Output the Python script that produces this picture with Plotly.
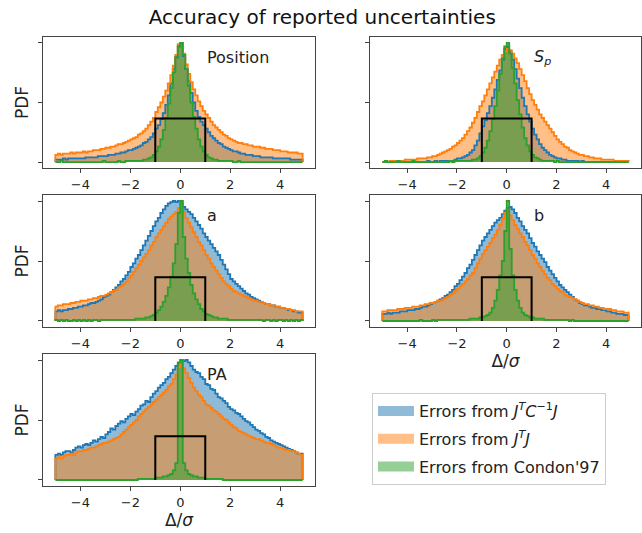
import numpy as np
import plotly.graph_objects as go

# Histogram bin edges (Delta / sigma), 99 bins of width 0.1
edges = np.round(np.arange(-50, 50) / 10.0, 1)

# Normalised PDFs (percent of the panel peak), one list per error estimate
pos_jtcj = [2, 2, 2, 3, 2, 3, 3, 3, 3, 3,
            3, 3, 4, 4, 4, 4, 4, 5, 5, 5,
            5, 6, 6, 6, 7, 7, 8, 8, 9, 10,
            10, 11, 12, 13, 14, 16, 17, 19, 21, 24,
            28, 31, 36, 41, 48, 56, 66, 78, 88, 98,
            100, 89, 78, 68, 58, 50, 43, 38, 34, 31,
            28, 25, 22, 20, 18, 16, 15, 13, 12, 11,
            10, 9, 9, 8, 7, 7, 6, 6, 6, 5,
            5, 5, 4, 4, 4, 4, 4, 3, 3, 3,
            3, 3, 3, 3, 2, 2, 2, 2, 2]
pos_jtj = [6, 7, 6, 7, 7, 7, 8, 7, 8, 8,
           8, 9, 8, 9, 9, 10, 10, 10, 11, 11,
           12, 12, 13, 13, 14, 15, 15, 16, 17, 18,
           19, 20, 21, 23, 24, 26, 28, 31, 34, 37,
           42, 46, 50, 55, 60, 66, 73, 81, 90, 99,
           100, 91, 82, 74, 67, 61, 56, 51, 47, 43,
           40, 37, 34, 31, 29, 27, 25, 23, 22, 20,
           19, 18, 17, 16, 16, 15, 15, 14, 14, 13,
           13, 13, 12, 12, 11, 11, 11, 10, 10, 10,
           9, 9, 9, 8, 8, 8, 8, 7, 7]
pos_condon = [0, 0, 1, 0, 0, 0, 0, 0, 0, 0,
              0, 0, 0, 0, 0, 0, 0, 0, 0, 1,
              0, 0, 0, 0, 0, 1, 0, 0, 1, 1,
              1, 1, 1, 1, 1, 2, 2, 3, 4, 6,
              9, 13, 19, 27, 37, 49, 62, 75, 88, 97,
              100, 90, 78, 64, 50, 38, 28, 19, 13, 9,
              6, 4, 3, 2, 2, 1, 1, 1, 1, 1,
              1, 0, 0, 1, 0, 0, 0, 0, 0, 0,
              0, 0, 0, 0, 0, 0, 0, 0, 0, 0,
              0, 0, 0, 0, 0, 0, 0, 0, 0]

sp_jtcj = [0, 0, 0, 0, 0, 0, 0, 0, 0, 0,
           0, 0, 0, 0, 0, 0, 0, 0, 1, 0,
           0, 1, 0, 1, 1, 1, 1, 1, 1, 2,
           3, 3, 4, 5, 6, 8, 10, 14, 18, 24,
           30, 35, 41, 47, 54, 61, 69, 77, 86, 95,
           97, 93, 86, 78, 70, 62, 54, 47, 40, 34,
           28, 23, 19, 15, 12, 10, 8, 6, 5, 4,
           3, 3, 2, 2, 1, 1, 1, 1, 1, 0,
           1, 0, 0, 0, 0, 0, 0, 0, 0, 0,
           0, 0, 0, 0, 0, 0, 0, 0, 0]
sp_jtj = [0, 1, 0, 1, 1, 1, 1, 1, 1, 2,
          2, 2, 2, 2, 3, 3, 3, 3, 4, 4,
          5, 5, 6, 7, 8, 9, 10, 11, 13, 14,
          16, 18, 20, 23, 26, 29, 33, 37, 42, 47,
          51, 56, 61, 66, 71, 76, 81, 86, 90, 93,
          95, 94, 91, 87, 83, 78, 73, 68, 62, 57,
          52, 48, 44, 40, 37, 34, 31, 28, 25, 22,
          19, 17, 15, 13, 12, 10, 9, 8, 7, 6,
          6, 5, 5, 4, 4, 3, 3, 3, 2, 2,
          2, 2, 2, 1, 1, 1, 1, 1, 1]
sp_condon = [0, 1, 0, 0, 0, 0, 1, 0, 0, 0,
             0, 0, 1, 0, 0, 0, 0, 0, 0, 0,
             0, 0, 0, 0, 0, 0, 0, 1, 0, 1,
             1, 1, 1, 1, 1, 1, 2, 2, 3, 5,
             8, 12, 18, 26, 36, 47, 60, 74, 87, 97,
             100, 91, 79, 66, 52, 40, 29, 20, 14, 9,
             6, 4, 3, 2, 1, 1, 1, 1, 1, 0,
             1, 0, 0, 0, 0, 0, 0, 0, 0, 0,
             0, 0, 0, 0, 0, 0, 0, 0, 0, 0,
             0, 0, 0, 0, 0, 0, 0, 0, 0]

a_jtcj = [8, 9, 8, 9, 9, 10, 10, 11, 11, 12,
          12, 13, 13, 14, 15, 15, 16, 17, 18, 20,
          21, 22, 24, 26, 28, 30, 33, 35, 38, 41,
          45, 48, 52, 55, 59, 63, 67, 71, 75, 79,
          83, 86, 90, 93, 96, 98, 99, 100, 99, 100,
          98, 95, 93, 91, 89, 86, 83, 80, 77, 73,
          70, 67, 64, 61, 58, 55, 51, 47, 43, 39,
          35, 33, 31, 29, 27, 25, 23, 22, 20, 19,
          18, 17, 16, 15, 14, 14, 13, 13, 12, 12,
          11, 11, 10, 9, 9, 8, 8, 7, 7]
a_jtj = [12, 13, 13, 14, 14, 14, 15, 15, 16, 16,
         17, 17, 17, 18, 18, 19, 19, 20, 21, 21,
         22, 23, 24, 25, 26, 28, 29, 31, 33, 36,
         38, 41, 44, 47, 50, 53, 56, 59, 63, 66,
         70, 73, 76, 79, 82, 85, 87, 89, 91, 94,
         100, 91, 86, 82, 78, 74, 70, 66, 63, 59,
         55, 52, 48, 45, 42, 39, 36, 33, 31, 29,
         27, 25, 24, 23, 22, 21, 20, 19, 18, 17,
         17, 16, 16, 15, 14, 14, 13, 13, 12, 12,
         11, 11, 10, 10, 9, 9, 8, 8, 8]
a_condon = [1, 0, 1, 0, 1, 0, 0, 1, 0, 1,
            0, 1, 0, 1, 0, 1, 1, 0, 1, 1,
            1, 1, 1, 1, 1, 1, 1, 1, 1, 1,
            1, 1, 2, 2, 2, 2, 3, 3, 4, 5,
            7, 9, 12, 16, 21, 28, 37, 48, 64, 90,
            100, 70, 52, 40, 30, 23, 18, 14, 10, 8,
            6, 5, 4, 3, 3, 2, 2, 2, 2, 1,
            1, 1, 1, 1, 1, 1, 1, 1, 1, 1,
            1, 1, 1, 0, 1, 1, 0, 1, 0, 1,
            1, 0, 1, 0, 1, 0, 1, 0, 1]

b_jtcj = [6, 6, 7, 6, 7, 7, 7, 8, 8, 8,
          9, 9, 9, 10, 10, 11, 12, 12, 13, 14,
          15, 16, 17, 18, 19, 21, 22, 24, 26, 29,
          31, 34, 37, 40, 44, 47, 51, 55, 59, 63,
          67, 70, 73, 76, 79, 82, 84, 86, 89, 92,
          94, 95, 93, 90, 86, 83, 79, 76, 73, 69,
          65, 62, 58, 55, 52, 49, 45, 42, 39, 36,
          33, 30, 28, 26, 24, 22, 20, 18, 17, 15,
          14, 13, 13, 12, 11, 11, 10, 10, 9, 9,
          8, 8, 7, 7, 6, 6, 6, 5, 5]
b_jtj = [8, 8, 9, 9, 9, 9, 10, 10, 10, 11,
         11, 11, 12, 12, 12, 13, 13, 14, 14, 15,
         15, 16, 17, 17, 18, 19, 20, 22, 23, 25,
         27, 29, 31, 33, 35, 38, 40, 44, 48, 52,
         56, 59, 62, 65, 69, 72, 76, 80, 85, 90,
         93, 88, 84, 80, 77, 73, 70, 66, 63, 59,
         55, 52, 48, 45, 42, 39, 36, 34, 31, 29,
         27, 25, 24, 22, 21, 20, 19, 18, 17, 16,
         15, 14, 14, 13, 13, 12, 12, 11, 11, 10,
         10, 10, 9, 9, 8, 8, 8, 7, 7]
b_condon = [0, 0, 0, 0, 0, 0, 0, 0, 0, 0,
            0, 0, 0, 0, 0, 1, 0, 0, 0, 0,
            1, 0, 1, 1, 1, 1, 1, 1, 1, 1,
            1, 1, 1, 1, 1, 2, 2, 2, 2, 3,
            3, 4, 5, 7, 11, 17, 26, 38, 50, 75,
            100, 60, 38, 26, 17, 11, 7, 5, 4, 3,
            3, 2, 2, 2, 2, 1, 1, 1, 1, 1,
            1, 1, 1, 1, 1, 0, 1, 0, 0, 0,
            0, 0, 0, 0, 0, 0, 0, 0, 0, 0,
            0, 0, 0, 0, 0, 0, 0, 0, 0]

pa_jtcj = [21, 22, 21, 23, 24, 24, 23, 25, 27, 28,
           27, 29, 30, 29, 31, 33, 32, 34, 36, 35,
           38, 40, 43, 42, 45, 47, 49, 48, 51, 53,
           55, 54, 57, 59, 62, 63, 66, 65, 69, 72,
           74, 77, 79, 81, 84, 86, 89, 92, 95, 97,
           100, 99, 100, 98, 95, 92, 90, 89, 86, 84,
           80, 79, 76, 75, 72, 69, 68, 66, 64, 61,
           59, 58, 56, 55, 53, 51, 49, 48, 46, 44,
           42, 41, 39, 38, 36, 35, 33, 32, 31, 30,
           29, 28, 27, 26, 25, 24, 23, 22, 22]
pa_jtj = [18, 19, 18, 20, 21, 21, 22, 21, 23, 24,
          24, 25, 25, 26, 27, 27, 28, 29, 30, 31,
          31, 32, 33, 34, 35, 36, 38, 40, 42, 44,
          46, 48, 50, 53, 55, 57, 59, 61, 63, 65,
          67, 69, 71, 73, 75, 78, 80, 84, 88, 94,
          100, 93, 89, 85, 81, 77, 74, 71, 69, 66,
          63, 62, 60, 58, 57, 55, 53, 51, 50, 48,
          46, 44, 43, 41, 40, 39, 38, 37, 36, 35,
          34, 34, 33, 32, 31, 31, 30, 29, 28, 27,
          27, 26, 25, 25, 24, 24, 23, 22, 21]
pa_condon = [0, 0, 0, 0, 0, 0, 0, 0, 0, 0,
             0, 0, 0, 0, 0, 0, 0, 0, 0, 0,
             0, 0, 0, 0, 0, 0, 0, 0, 0, 0,
             0, 0, 0, 1, 1, 1, 1, 1, 1, 1,
             2, 2, 2, 3, 3, 4, 5, 8, 14, 98,
             100, 14, 8, 5, 4, 3, 3, 2, 2, 2,
             1, 1, 1, 1, 1, 1, 1, 0, 0, 0,
             0, 0, 0, 0, 0, 0, 0, 0, 0, 0,
             0, 0, 0, 0, 0, 0, 0, 0, 0, 0,
             0, 0, 0, 0, 0, 0, 0, 0, 0]

panel_names = ["Position", "<i>S</i><sub><i>p</i></sub>", "a", "b", "PA"]
panel_data = [
    (pos_jtcj, pos_jtj, pos_condon),
    (sp_jtcj, sp_jtj, sp_condon),
    (a_jtcj, a_jtj, a_condon),
    (b_jtcj, b_jtj, b_condon),
    (pa_jtcj, pa_jtj, pa_condon),
]
series_names = [
    "Errors from <i>J</i><sup><i>T</i></sup><i>C</i><sup>\u22121</sup><i>J</i>",
    "Errors from <i>J</i><sup><i>T</i></sup><i>J</i>",
    "Errors from Condon'97",
]
series_colors = ["#1f77b4", "#ff7f0e", "#2ca02c"]
series_fills = ["rgba(31,119,180,0.5)", "rgba(255,127,14,0.5)", "rgba(44,160,44,0.5)"]

# Reference box: unit-width interval |Delta/sigma| < 1
box_x = [-1, -1, 1, 1]
box_y = [0, 0.365, 0.365, 0]

# Panel placement (paper coordinates)
col_x = [[0.067, 0.4907], [0.5763, 0.9984]]
row_y = [[0.6848, 0.9306], [0.3865, 0.6341], [0.0882, 0.3358]]
panel_pos = [(0, 0), (0, 1), (1, 0), (1, 1), (2, 0)]

FONT = "DejaVu Sans"
AXCOL = "#444444"
TXT = "#222222"

fig = go.Figure()


def step_path(vals):
    v = [p / 100.0 for p in vals]
    xs = [edges[0]] + list(edges) + [edges[-1]]
    ys = [0.0] + v + [v[-1], 0.0]
    return xs, ys


for k, (data, (r, c)) in enumerate(zip(panel_data, panel_pos)):
    n = k + 1
    xa = "x" if n == 1 else f"x{n}"
    ya = "y" if n == 1 else f"y{n}"
    # filled areas first
    for s, vals in enumerate(data):
        xs, ys = step_path(vals)
        fig.add_trace(go.Scatter(
            x=xs, y=ys, mode="lines", line=dict(width=0, shape="hv"),
            fill="tozeroy", fillcolor=series_fills[s],
            xaxis=xa, yaxis=ya, legendgroup=f"s{s}", showlegend=False,
            hoverinfo="skip"))
    # step outlines on top
    for s, vals in enumerate(data):
        xs, ys = step_path(vals)
        fig.add_trace(go.Scatter(
            x=xs, y=ys, mode="lines",
            line=dict(width=1.8, color=series_colors[s], shape="hv"),
            xaxis=xa, yaxis=ya, legendgroup=f"s{s}", showlegend=False,
            hoverinfo="skip"))
    fig.add_trace(go.Scatter(
        x=box_x, y=box_y, mode="lines", line=dict(color="black", width=2),
        xaxis=xa, yaxis=ya, showlegend=False, hoverinfo="skip"))

    xkey = "xaxis" if n == 1 else f"xaxis{n}"
    ykey = "yaxis" if n == 1 else f"yaxis{n}"
    xdict = dict(
        domain=col_x[c], anchor=ya, range=[-5.495, 5.395],
        tickvals=[-4, -2, 0, 2, 4], ticks="outside", ticklen=4,
        tickcolor=AXCOL, showgrid=False, zeroline=False,
        showline=True, linecolor=AXCOL, linewidth=1.2, mirror=True,
        tickfont=dict(family=FONT, size=13, color=TXT))
    if n in (4, 5):
        xdict["title"] = dict(text="\u0394/<i>\u03c3</i>",
                              font=dict(family=FONT, size=17, color=TXT),
                              standoff=5)
    ydict = dict(
        domain=row_y[r], anchor=xa, range=[-0.05, 1.05],
        tickvals=[0, 0.5, 1], showticklabels=False, ticks="outside",
        ticklen=4, tickcolor=AXCOL, showgrid=False, zeroline=False,
        showline=True, linecolor=AXCOL, linewidth=1.2, mirror=True)
    if c == 0:
        ydict["title"] = dict(text="PDF",
                              font=dict(family=FONT, size=17, color=TXT),
                              standoff=4)
    fig.layout[xkey] = xdict
    fig.layout[ykey] = ydict
    fig.add_annotation(
        x=1.0, y=0.88, xref=xa, yref=ya, text=panel_names[k],
        showarrow=False, xanchor="left", yanchor="middle",
        font=dict(family=FONT, size=16, color=TXT))

# Legend entries: translucent swatches matching the filled histograms
for s in range(3):
    fig.add_trace(go.Scatter(
        x=[None], y=[None], mode="lines", name=series_names[s],
        line=dict(color=series_fills[s], width=12),
        legendgroup=f"s{s}", showlegend=True, hoverinfo="skip"))

fig.update_layout(
    width=642, height=533,
    margin=dict(l=0, r=0, t=0, b=0),
    paper_bgcolor="white", plot_bgcolor="white",
    title=dict(text="Accuracy of reported uncertainties", x=0.502, y=0.968,
               xanchor="center", yanchor="middle",
               font=dict(family=FONT, size=20, color="#111111")),
    legend=dict(x=0.5794, y=0.2627, xanchor="left", yanchor="top",
                bgcolor="white", bordercolor="#cccccc", borderwidth=1,
                font=dict(family=FONT, size=16, color=TXT),
                itemwidth=36, tracegroupgap=4, traceorder="grouped"),
    showlegend=True,
)

fig.write_html("out.html")
